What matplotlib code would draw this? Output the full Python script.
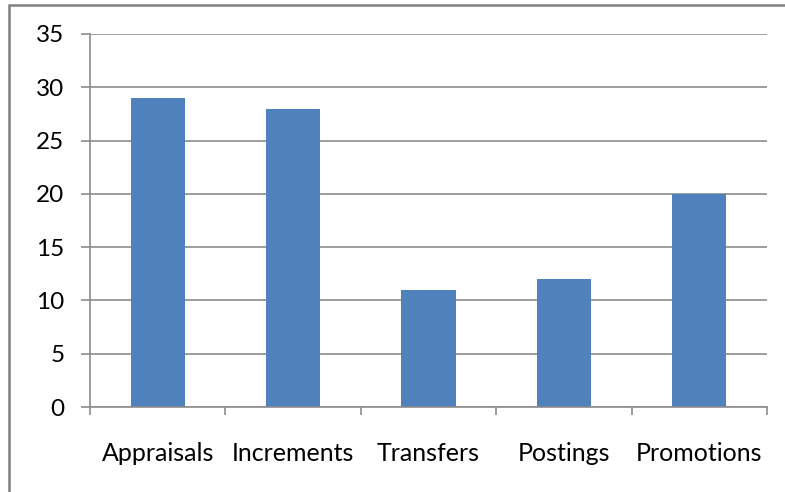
import matplotlib
matplotlib.use("Agg")
import matplotlib.pyplot as plt
from matplotlib.patches import Rectangle
import numpy as np

categories = ["Appraisals", "Increments", "Transfers", "Postings", "Promotions"]
values = [29, 28, 11, 12, 20]
y_ticks = [0, 5, 10, 15, 20, 25, 30, 35]

plt.rcParams['font.family'] = ['Lato', 'DejaVu Sans']

W, H = 785, 492
fig = plt.figure(figsize=(W / 100, H / 100), dpi=100)
ax = fig.add_axes([90 / W, 1 - 407 / H, (767 - 90) / W, (407 - 34) / H])

grey = "#8c8c8c"
x = np.arange(len(categories))
ax.bar(x, values, width=0.4, color="#4f81bd", zorder=3)

ax.set_xlim(-0.5, len(categories) - 0.5)
ax.set_ylim(0, 35)
ax.set_yticks(y_ticks)
ax.set_yticklabels([str(t) for t in y_ticks], fontsize=17.5)
ax.yaxis.grid(True, color=grey, linewidth=1.2, zorder=0)

# boundary ticks on the category axis, labels centred between them
ax.set_xticks(np.arange(-0.5, len(categories), 1.0))
ax.set_xticklabels([])
ax.set_xticks(x, minor=True)
ax.set_xticklabels(categories, minor=True, fontsize=18)
ax.tick_params(axis="x", which="major", length=6, width=1.2, color=grey, direction="out")
ax.tick_params(axis="x", which="minor", length=0, pad=25)
ax.tick_params(axis="y", length=6.5, width=1.2, color=grey, pad=12)

for side in ("top", "right"):
    ax.spines[side].set_visible(False)
for side in ("left", "bottom"):
    ax.spines[side].set_color(grey)
    ax.spines[side].set_linewidth(1.2)
    ax.spines[side].set_zorder(4)

# chart area frame
fig.patches.append(Rectangle((8.5 / W, -0.1), 1.2, 1.1 - 4.5 / H,
                             transform=fig.transFigure, fill=False,
                             edgecolor="#808080", linewidth=1.8))

fig.savefig("out.png", dpi=100)
